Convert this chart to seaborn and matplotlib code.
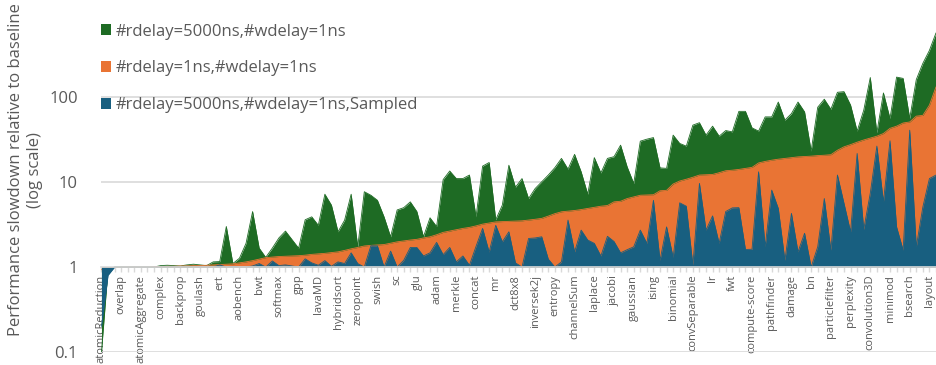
import numpy as np
import pandas as pd
import matplotlib
matplotlib.use('Agg')
import matplotlib.pyplot as plt
from matplotlib.patches import Patch
import seaborn as sns

# benchmark names shown on the axis (every third category is labelled)
bench_labels = ['atomicReduction', 'overlap', 'atomicAggregate', 'complex', 'backprop', 'goulash',
                'ert', 'aobench', 'bwt', 'softmax', 'gpp', 'lavaMD', 'hybridsort', 'zeropoint',
                'swish', 'sc', 'glu', 'adam', 'merkle', 'concat', 'mr', 'dct8x8', 'inversek2j',
                'entropy', 'channelSum', 'laplace', 'jacobi', 'gaussian', 'ising', 'binomial',
                'convSeparable', 'lr', 'fwt', 'compute-score', 'pathfinder', 'damage', 'bn',
                'particlefilter', 'perplexity', 'convolution3D', 'minimod', 'bsearch', 'layout']

# #rdelay=5000ns,#wdelay=1ns
slow_5000 = [0.1, 0.95, 1.0, 1.0, 1.0, 1.0, 1.0, 1.0, 1.0, 1.04, 1.05, 1.04, 1.03, 1.06, 1.08, 1.06,
             1.04, 1.15, 1.16, 3.0, 1.1, 1.27, 1.9, 4.5, 1.67, 1.3, 1.67, 2.2, 2.65, 2.1, 1.67, 3.6,
             3.9, 3.1, 7.2, 5.35, 2.6, 3.56, 7.2, 1.73, 7.7, 7.0, 6.1, 3.9, 2.27, 4.7, 5.0, 5.85,
             4.5, 2.27, 3.8, 3.0, 10.7, 13.5, 11.0, 11.0, 12.1, 3.9, 15.4, 17.0, 3.6, 5.35, 15.8, 8.7,
             11.0, 6.4, 8.4, 10.1, 12.1, 14.8, 19.0, 14.2, 21.2, 13.2, 7.2, 19.4, 12.8, 19.0, 19.9, 27.2,
             15.1, 9.65, 30.3, 32.0, 33.4, 14.7, 14.5, 35.7, 28.5, 26.5, 46.8, 50.0, 35.7, 45.5, 34.7, 40.4,
             39.0, 68.0, 68.0, 43.5, 39.8, 58.5, 58.5, 87.5, 53.5, 64.0, 87.5, 67.0, 23.2, 76.0, 94.5, 72.0,
             114.0, 116.0, 80.5, 39.8, 70.0, 170.0, 38.0, 112.0, 56.0, 172.0, 166.0, 56.0, 161.0, 250.0, 355.0, 570.0]

# #rdelay=1ns,#wdelay=1ns
slow_1 = [0.93, 0.97, 0.99, 1.0, 1.0, 1.0, 1.0, 1.0, 1.01, 1.01, 1.02, 1.02, 1.03, 1.03, 1.04, 1.04,
          1.05, 1.06, 1.07, 1.08, 1.09, 1.12, 1.15, 1.19, 1.24, 1.29, 1.31, 1.33, 1.34, 1.35, 1.36, 1.38,
          1.41, 1.43, 1.45, 1.48, 1.51, 1.57, 1.64, 1.70, 1.77, 1.80, 1.82, 1.84, 1.91, 1.98, 2.03, 2.08,
          2.12, 2.20, 2.27, 2.40, 2.56, 2.65, 2.75, 2.85, 2.93, 3.05, 3.20, 3.30, 3.40, 3.43, 3.45, 3.47,
          3.50, 3.57, 3.65, 3.74, 3.98, 4.25, 4.47, 4.55, 4.63, 4.75, 4.90, 5.05, 5.20, 5.30, 5.85, 5.95,
          6.40, 6.70, 7.00, 7.05, 7.10, 7.90, 8.00, 9.50, 10.3, 10.8, 11.4, 12.1, 12.2, 12.3, 12.9, 13.6,
          13.8, 14.1, 14.5, 14.9, 16.8, 17.5, 18.1, 18.6, 19.0, 19.4, 19.8, 20.0, 20.2, 20.5, 20.7, 21.0,
          23.7, 26.0, 27.6, 29.5, 31.3, 33.0, 34.7, 37.3, 42.9, 45.5, 49.6, 51.0, 59.7, 61.0, 80.5, 132.0]

# #rdelay=5000ns,#wdelay=1ns,Sampled
slow_sampled = [0.2, 0.8, 1.0, 1.0, 1.0, 1.0, 1.0, 1.0, 1.0, 1.0, 1.0, 1.0, 1.0, 1.0, 1.0, 1.0,
                1.0, 1.0, 1.06, 1.0, 1.02, 1.0, 1.0, 1.03, 1.1, 1.0, 1.18, 1.04, 1.06, 1.03, 1.0, 1.25,
                1.12, 1.05, 1.19, 1.02, 1.15, 1.1, 1.47, 1.1, 1.0, 1.78, 1.77, 1.0, 1.54, 1.0, 1.2, 1.7,
                1.7, 1.35, 1.47, 1.95, 1.4, 1.7, 1.15, 1.35, 1.05, 1.75, 2.85, 1.5, 3.1, 1.98, 2.6, 1.12,
                1.0, 2.17, 2.2, 2.27, 1.24, 1.0, 1.15, 3.57, 1.51, 2.72, 2.08, 1.9, 1.35, 2.3, 2.0, 1.47,
                1.6, 1.73, 2.72, 1.9, 6.1, 1.2, 2.97, 1.3, 5.7, 5.2, 1.05, 9.65, 2.72, 4.0, 1.9, 4.5,
                4.97, 5.0, 1.61, 1.62, 13.2, 1.73, 8.05, 4.9, 1.2, 4.28, 1.51, 2.5, 1.0, 1.73, 6.4, 1.58,
                12.1, 5.6, 2.6, 21.7, 2.77, 7.4, 26.5, 5.85, 30.6, 2.97, 1.58, 40.8, 1.73, 5.1, 11.0, 12.1]

series_names = ['#rdelay=5000ns,#wdelay=1ns', '#rdelay=1ns,#wdelay=1ns',
                '#rdelay=5000ns,#wdelay=1ns,Sampled']
series_colors = ['#1e6b24', '#e97434', '#185f80']

df = pd.DataFrame({'idx': np.arange(len(slow_1)),
                   series_names[0]: slow_5000,
                   series_names[1]: slow_1,
                   series_names[2]: slow_sampled})
long_df = df.melt(id_vars='idx', var_name='config', value_name='slowdown')

sns.set_theme(style='white')
plt.rcParams['font.family'] = ['Open Sans', 'DejaVu Sans']
text_color = '#595959'
grid_color = '#d9d9d9'

fig = plt.figure(figsize=(9.36, 3.65), dpi=100)
ax = fig.add_axes([0.1084, 0.0356, 0.8916, 0.9644])

# area fills from the axis crossing (1), back to front
for name, color in zip(series_names, series_colors):
    sub = long_df[long_df['config'] == name]
    ax.fill_between(sub['idx'], 1, sub['slowdown'], color=color, linewidth=0, zorder=2)
    sns.lineplot(x='idx', y='slowdown', data=sub, color=color, linewidth=0.6, ax=ax, zorder=2,
                 legend=False)

ax.set_yscale('log')
ax.set_ylim(0.1, 1390)
ax.set_xlim(0, len(slow_1) - 1)
ax.set_ylabel('')
ax.set_xlabel('')

# y axis
ax.set_yticks([0.1, 1, 10, 100])
ax.set_yticklabels(['0.1', '1', '10', '100'])
ax.yaxis.set_minor_locator(matplotlib.ticker.NullLocator())
ax.tick_params(axis='y', length=0, pad=17, labelsize=12, labelcolor=text_color)
for v in [0.1, 10, 100]:
    ax.axhline(v, color=grid_color, linewidth=1.2, zorder=1)

# x axis crosses at 1
for s in ['top', 'right', 'left']:
    ax.spines[s].set_visible(False)
ax.spines['bottom'].set_position(('data', 1))
ax.spines['bottom'].set_color(grid_color)
ax.spines['bottom'].set_linewidth(1.2)
ax.spines['bottom'].set_zorder(3)
all_labels = [''] * len(slow_1)
for k, lab in enumerate(bench_labels):
    all_labels[3 * k] = lab
ax.set_xticks(np.arange(len(slow_1)))
ax.set_xticklabels(all_labels, rotation=90, va='top', ha='center')
ax.tick_params(axis='x', length=3.5, width=1, color=grid_color, pad=2, labelsize=8,
               labelcolor=text_color, bottom=True)

fig.text(0.027, 0.535, 'Performance slowdown relative to baseline\n(log scale)', rotation=90,
         ha='center', va='center', fontsize=12, color=text_color, linespacing=1.25)

handles = [Patch(facecolor=c, edgecolor='none') for c in series_colors]
leg = ax.legend(handles, series_names, loc='upper left', bbox_to_anchor=(-0.008, 0.952),
                frameon=False, fontsize=12, handlelength=0.6, handleheight=0.6,
                handletextpad=0.25, labelspacing=1.25, borderaxespad=0)
for t in leg.get_texts():
    t.set_color(text_color)

plt.savefig('out.png', dpi=100)
